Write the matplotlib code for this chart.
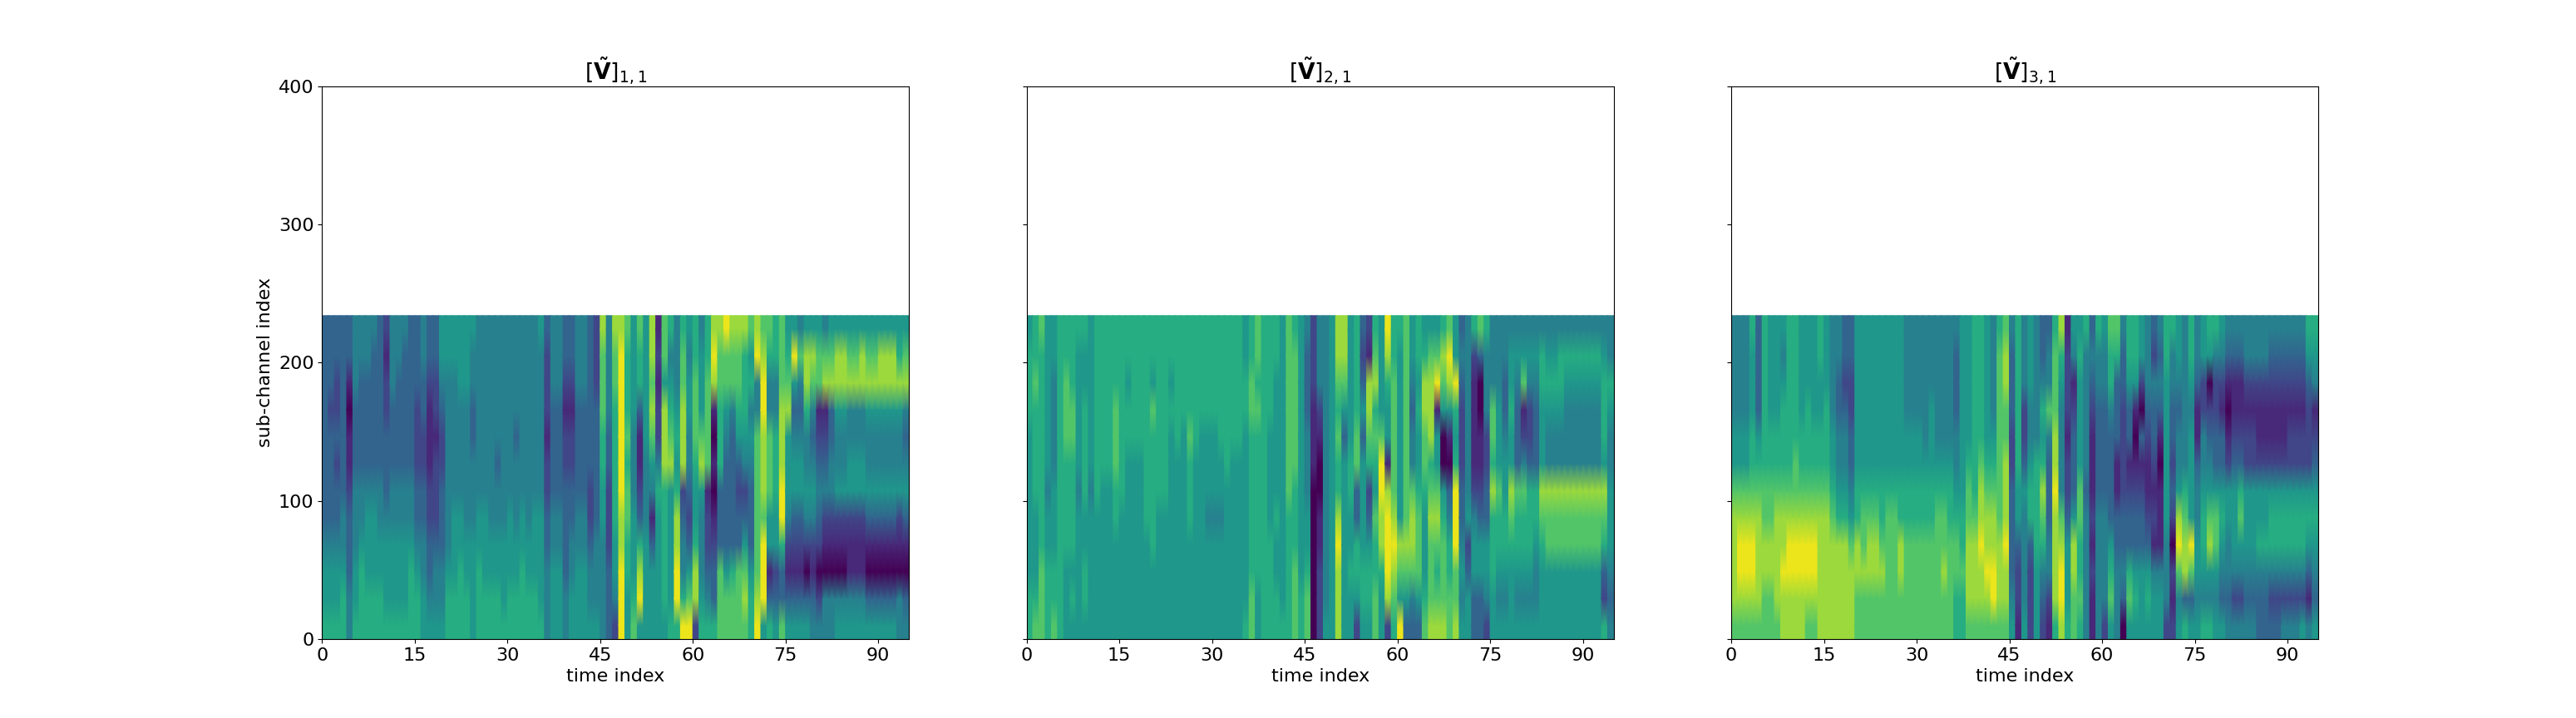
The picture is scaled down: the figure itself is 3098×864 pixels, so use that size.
import numpy as np
import matplotlib
matplotlib.use("Agg")
import matplotlib.pyplot as plt

# Each string is one time index; digits run from the highest sub-channel band (top) to the lowest.
# Digit 0-9 = colour level.
V11_EARLY = ["333333334556","333233334556","332232334556","333333344566","331011233344",
 "444333444556","443333445666","443333455566","433333455566","333333445566",
 "212233345556","444333445556","443333445556","433333445556","333333445666",
 "333222334566","443322334455","332111223345","332212223445","554322333445",
 "554444444566","554444455566","555444455666","555444445566","544334445555",
 "444444455666","444444455566","444444445566","444443445566","444444445556",
 "444444455566","444434445566","444444455666","444444445566","444444455566",
 "544444455556","322212233444","444333344555","444333344555","332122333344",
 "332122334455","444333344555","444333344555","333333223445","222333334445"]
V11_LATE = ["877766554444","444433222333","877666665542","899999988999","766676776655",
 "555544455567","766311236895","555554445555","887875413555","121224655555",
 "775888666665","645678555556","444565688996","677888234469","545544323579",
 "667776556882","455578544456","667777122346","898101012336","877666333777",
 "977543333577","877433333677","877653233777","866654235787","756454333566",
 "894477777789","789988879995","764477755136","664466655235","777888996337",
 "567855542135","595345532135","474345532135","588644542035","587434542134",
 "577123432024","478123421044","578334421044","588544521045","588544521045",
 "578445521145","578445521145","588445521145","578544531035","578544531035",
 "588544531035","588544531035","588544531035","568544521044","578434531034"]

V21_EARLY = ["566655555566","667666655567","766666666777","555555455666","554444555667",
 "666666666666","667776666555","666776666565","655555455555","655666655665",
 "555555455555","666666655555","666666555555","666666555555","666777665555",
 "666666655555","665665555555","666665555555","666665555555","666666665555",
 "665766666555","666666655555","666666655555","665655555555","666665555555",
 "666655555555","666676665555","666665555555","666655555555","666655545555",
 "666655545555","666665545555","666666555555","666665555555","666665555555",
 "556655555556","667766666677","776766666655","666666666666","666655556666",
 "665555565566","555555555556","777777766666","677777666777","555555555566"]
V21_LATE = ["433344455677","222111000000","444210011222","444444444445","555555555555",
 "887676689888","887535555555","555556655655","666677336652","323535555665",
 "218876235665","678676576677","555579988655","986551899982","667777789876",
 "655555558759","777777778753","554344788743","665655677753","568877655567",
 "578886787778","579155787678","687500567778","798510346677","559656999778",
 "343222334545","444444452355","621111245533","730011235533","644422335542",
 "444776866655","444555766545","443345566545","455655876555","454333766545",
 "457124766545","454223666545","454333665445","466555876555","456544877555",
 "456544877555","466544877555","465444877555","465444877555","465444877555",
 "465444877555","465444877555","465444877555","456665876326","446544555434"]

V31_EARLY = ["444455788887","444455789987","444455789987","655566789987","333356788887",
 "666666778877","555566778877","555566788887","545666788988","666666789988",
 "666667789988","555566789988","555666789987","555566789987","665566788888",
 "555666788888","444455678888","443344568888","332344568888","332233457888",
 "555555668877","555555677877","555555678877","555555678877","555555667877",
 "555555677777","555555677777","555555668877","444455667777","444455667777",
 "444455667777","444445667777","444555667777","444445677777","444445677877",
 "444445667777","433344567766","555555566766","555556778887","666666678887",
 "666667889887","555556788987","444456788997","677777778887","788778889887"]
V31_LATE = ["433322333345","666666553221","444223544445","555445663222","444446666555",
 "334656876432","344743334421","677788988886","865444478998","122212235556",
 "541233358877","565555776676","644444344444","343211121211","644333344444",
 "544333344442","766433335675","763331133444","433222233430","665331233675",
 "665101233565","552031233555","444321123565","324332121455","434310111455",
 "665555554442","644332320212","554344589745","444444678836","665455559735",
 "443113445545","552244566546","650234578546","642233577545","542133565435",
 "431012554434","431123555424","431123675424","442122555434","442122555434",
 "442112556433","442112556433","432112566423","432112566423","432112566424",
 "432122566424","432122566424","432122566425","653222565314","654123565435"]

LEVELS = [0.0, 0.11, 0.21, 0.32, 0.43, 0.53, 0.62, 0.73, 0.85, 0.97]
PANELS = [V11_EARLY + V11_LATE, V21_EARLY + V21_LATE, V31_EARLY + V31_LATE]
TITLES = [r"$[\tilde{\mathbf{V}}]_{1,1}$", r"$[\tilde{\mathbf{V}}]_{2,1}$", r"$[\tilde{\mathbf{V}}]_{3,1}$"]
N_SUBCHANNELS = 234
X_TICKS = [0, 15, 30, 45, 60, 75, 90]
Y_TICKS = [0, 100, 200, 300, 400]

plt.rcParams["font.size"] = 16
fig, axes = plt.subplots(1, 3, figsize=(30.98, 8.64), dpi=100, sharey=True)

for ax, columns, title in zip(axes, PANELS, TITLES):
    grid = np.array([[LEVELS[int(ch)] for ch in col] for col in columns]).T[::-1]
    n_bands, n_times = grid.shape
    band_h = N_SUBCHANNELS / n_bands
    y_nodes = np.r_[0, (np.arange(n_bands) + 0.5) * band_h, N_SUBCHANNELS]
    for t in range(n_times):
        # one column at a time: colour shades along the sub-channel axis, edges stay sharp in time
        profile = np.r_[grid[0, t], grid[:, t], grid[-1, t]]
        X, Y = np.meshgrid([t, t + 1], y_nodes)
        C = np.column_stack([profile, profile])
        ax.pcolormesh(X, Y, C, cmap="viridis", vmin=0, vmax=1, shading="gouraud", rasterized=True)
    ax.set_xlim(0, n_times)
    ax.set_ylim(0, 400)
    ax.set_xticks(X_TICKS)
    ax.set_yticks(Y_TICKS)
    ax.set_xlabel("time index")
    ax.set_title(title)

axes[0].set_ylabel("sub-channel index")
fig.savefig("out.png", dpi=100)
